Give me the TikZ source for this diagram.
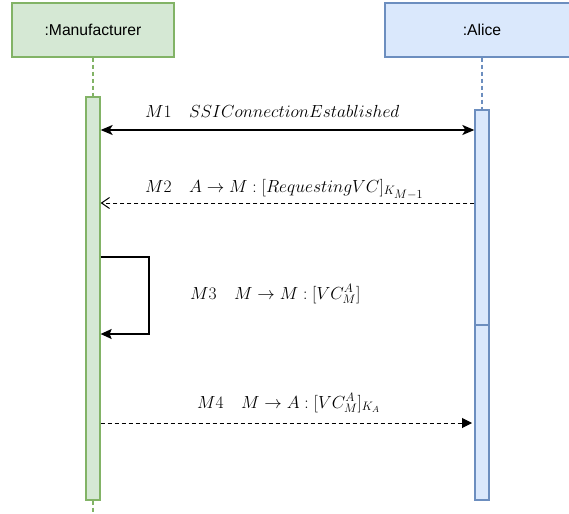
\RequirePackage{fix-cm}
\documentclass[tikz,border=0pt]{standalone}
\usepackage[no-math]{fontspec}
\newfontfamily\headfont{Liberation Sans}
\usetikzlibrary{arrows.meta}

\definecolor{mfill}{HTML}{D5E8D4}
\definecolor{mline}{HTML}{82B366}
\definecolor{afill}{HTML}{DAE8FC}
\definecolor{aline}{HTML}{6C8EBF}

\tikzset{
  headbox/.style={draw, line width=1.3pt, inner sep=0pt, minimum height=54pt,
    font=\headfont\fontsize{15.7}{18}\selectfont},
  mbox/.style={headbox, fill=mfill, draw=mline},
  abox/.style={headbox, fill=afill, draw=aline},
  actbar/.style={draw, line width=1.3pt, inner sep=0pt, minimum width=14pt},
  mbar/.style={actbar, fill=mfill, draw=mline},
  abar/.style={actbar, fill=afill, draw=aline},
  lifeline/.style={line width=1.5pt, dash pattern=on 4pt off 3pt},
  msglabel/.style={anchor=base west, inner sep=0pt,
    font=\fontsize{17.5}{21}\selectfont},
  dashmsg/.style={line width=1pt, dash pattern=on 4pt off 3pt},
}

\begin{document}
\begin{tikzpicture}[x=1pt, y=-1pt]
\useasboundingbox (0,0) rectangle (569,513);
\clip (0,0) rectangle (569,513);

% participants
\node[mbox, minimum width=162pt] (mhead) at (93,30) {:Manufacturer};
\node[abox, minimum width=194pt] (ahead) at (482,30) {:Alice};

% activation bars
\node[mbar, minimum height=403pt] (mact) at (93,298.5) {};
\node[abar, minimum height=215pt] (aact1) at (482,217.5) {};
\node[abar, minimum height=175pt] (aact2) at (482,412.5) {};

% lifelines
\coordinate (mend) at (93,513);
\draw[lifeline, mline] (mhead.south) -- (mact.north);
\draw[lifeline, mline] (mact.south) -- (mend);
\draw[lifeline, aline] (ahead.south) -- (aact1.north);

% message heights
\coordinate (y1) at (0,130);
\coordinate (y2) at (0,203);
\coordinate (y3a) at (0,257);
\coordinate (y3b) at (0,334);
\coordinate (y4) at (0,423);
\coordinate (loopx) at (149,0);

% M1
\draw[line width=1.6pt, {Stealth[length=12pt,width=10pt,inset=3pt]}-{Stealth[length=12pt,width=10pt,inset=3pt]}]
  (mact.east |- y1) -- (aact1.west |- y1);
\node[msglabel] (l1) at (145,118) {$M1\quad SSIConnectionEstablished$};

% M2
\draw[dashmsg, -{Straight Barb[length=8pt,width=11pt,line width=1pt]}]
  (aact1.west |- y2) -- (mact.east |- y2);
\node[msglabel] (l2) at (145,192) {$M2\quad A\rightarrow M:[RequestingVC]_{K_{\scriptstyle M-1}}$};

% M3 self message
\draw[line width=1.3pt, -{Stealth[length=11pt,width=10pt,inset=2pt]}]
  (mact.east |- y3a) -- (loopx |- y3a) -- (loopx |- y3b) -- (mact.east |- y3b);
\node[msglabel] (l3) at (190,299) {$M3\quad M\rightarrow M:[VC_M^A]$};

% M4
\coordinate (m4end) at (472,423);
\draw[dashmsg, -{Triangle[length=10pt,width=10pt]}]
  (mact.east |- y4) -- (m4end);
\node[msglabel] (l4) at (197,408) {$M4\quad M\rightarrow A:[VC_M^A]_{K_A}$};
\end{tikzpicture}
\end{document}
